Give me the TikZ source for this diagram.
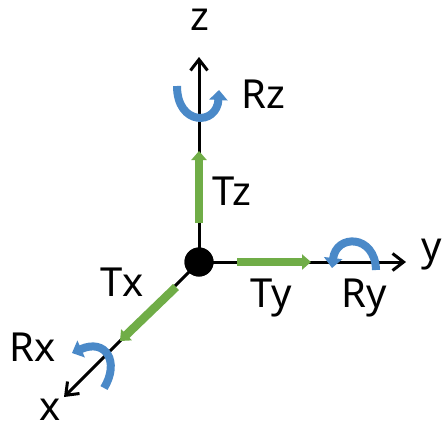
\documentclass[tikz,border=0pt]{standalone}
\usepackage{fontspec}
\setmainfont{Noto Sans}
\usetikzlibrary{arrows.meta}
\definecolor{tgreen}{HTML}{70AD47}
\definecolor{rblue}{HTML}{4A89C8}
\tikzset{
  lbl/.style={font=\fontsize{40}{42}\selectfont, inner sep=0pt, text=black},
  axis/.style={line width=3pt, -{Straight Barb[length=11pt,width=17pt,line width=3pt]}},
  trans/.style={tgreen, line width=8.5pt, -{Triangle[length=9pt,width=15pt]}},
  rot/.style={rblue, line width=8pt, -{Triangle[length=10pt,width=18pt]}}
}
\begin{document}
\begin{tikzpicture}[x=1pt,y=-1pt]
\useasboundingbox (0,0) rectangle (443,432);
\fill[white] (0,0) rectangle (443,432);
% axis ends
\coordinate (zend) at (199,57);
\coordinate (yend) at (406,262);
\coordinate (xend) at (64,397);
\node[circle, fill=black, minimum size=29pt, inner sep=0pt] (O) at (199,262) {};
\draw[axis] (O.center) -- (zend);
\draw[axis] (O.center) -- (yend);
\draw[axis] (O.center) -- (xend);
\fill[black] (O) circle (14.5pt);
% translations
\coordinate (tz0) at (199,223);
\coordinate (tz1) at (199,151);
\coordinate (ty0) at (237,262);
\coordinate (ty1) at (311,262);
\coordinate (tx0) at (176,287);
\coordinate (tx1) at (120,341);
\draw[trans] (tz0) -- (tz1);
\draw[trans] (ty0) -- (ty1);
\draw[trans] (tx0) -- (tx1);
% rotations
\draw[rot] (177,86) .. controls (177,126) and (217,126) .. (219,90);
\draw[rot] (376,270) .. controls (375,234) and (336,234) .. (332,268);
\draw[rot] (104,388) .. controls (120,362) and (106,338) .. (72,353);
% labels
\node[lbl] (lz) at (200,20) {z};
\node[lbl] (lrz) at (263,94) {Rz};
\node[lbl] (ltz) at (232,191) {Tz};
\node[lbl] (ly) at (432,255) {y};
\node[lbl] (lty) at (271,298) {Ty};
\node[lbl] (lry) at (364,298) {Ry};
\node[lbl] (ltx) at (122,282) {Tx};
\node[lbl] (lrx) at (33,347) {Rx};
\node[lbl] (lx) at (50,410) {x};
\end{tikzpicture}
\end{document}
